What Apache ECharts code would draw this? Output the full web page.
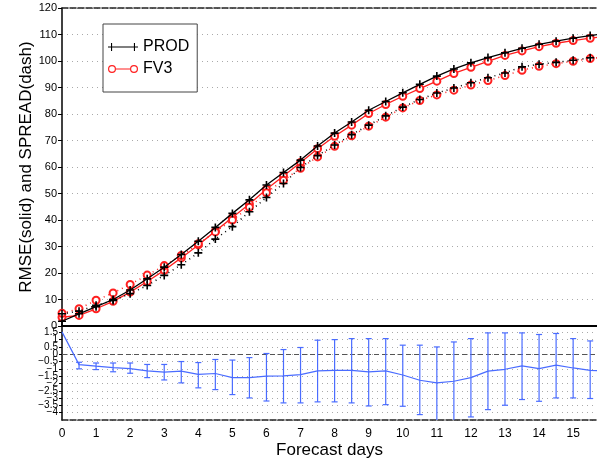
<!DOCTYPE html>
<html>
<head>
<meta charset="utf-8">
<script src="https://cdn.jsdelivr.net/npm/echarts@6/dist/echarts.min.js"></script>
<style>
html,body{margin:0;padding:0;background:#fff;}
#chart{width:597px;height:461px;}
</style>
</head>
<body>
<div id="chart"></div>
<script>
// ---- data ----
const days = [0,0.5,1,1.5,2,2.5,3,3.5,4,4.5,5,5.5,6,6.5,7,7.5,8,8.5,9,9.5,10,10.5,11,11.5,12,12.5,13,13.5,14,14.5,15,15.5,16];
const prodRmse   = [1.8,4.6,7.3,10.0,13.6,17.8,22.2,27.0,32.0,37.2,42.5,47.6,53.2,57.9,62.6,67.9,72.8,77.0,81.4,84.7,88.0,91.2,94.3,97.0,99.3,101.3,103.1,104.8,106.3,107.5,108.6,109.6,110.4];
const prodSpread = [4.6,5.6,7.8,9.6,12.2,15.3,19.1,23.1,27.6,32.8,37.5,43.1,48.5,53.8,59.8,64.3,68.3,72.2,75.8,79.3,82.6,85.5,87.9,89.8,91.8,93.7,95.5,97.8,98.8,99.5,100.3,101.2,101.9];
const fv3Rmse    = [3.3,4.0,6.5,9.3,12.8,16.8,21.0,25.7,30.6,35.8,40.9,46.0,51.6,56.6,61.7,66.9,71.6,75.8,80.2,83.6,86.7,89.6,92.4,95.3,97.6,99.9,102.1,103.8,105.4,106.7,107.7,108.6,109.4];
const fv3Spread  = [4.8,6.5,9.7,12.5,15.7,19.2,22.8,26.6,31.0,35.5,40.0,44.8,50.3,55.0,59.5,63.8,67.8,71.8,75.4,78.8,82.3,85.1,87.2,89.0,90.9,92.6,94.5,96.5,98.0,99.0,99.9,100.9,101.6];
const diffMean   = [1.53,-0.71,-0.82,-0.91,-0.98,-1.14,-1.23,-1.16,-1.38,-1.32,-1.6,-1.6,-1.5,-1.48,-1.39,-1.14,-1.1,-1.1,-1.21,-1.14,-1.42,-1.78,-1.96,-1.85,-1.6,-1.16,-1.03,-0.8,-0.98,-0.75,-0.94,-1.1,-1.15];
const barDays = [0.5,1,1.5,2,2.5,3,3.5,4,4.5,5,5.5,6,6.5,7,7.5,8,8.5,9,9.5,10,10.5,11,11.5,12,12.5,13,13.5,14,14.5,15,15.5];
const barLow  = [-1.0,-1.05,-1.2,-1.3,-1.6,-1.76,-1.96,-2.3,-2.42,-2.76,-2.99,-3.2,-3.33,-3.33,-3.26,-3.26,-3.33,-3.54,-3.45,-3.56,-4.13,-4.6,-4.7,-4.29,-3.79,-3.49,-3.1,-3.22,-2.99,-2.99,-3.03];
const barHigh = [-0.55,-0.6,-0.6,-0.6,-0.7,-0.7,-0.5,-0.57,-0.36,-0.4,-0.23,0.05,0.32,0.46,0.96,1.0,1.07,1.07,1.07,0.62,0.62,0.5,0.84,1.07,1.46,1.46,1.46,1.35,1.42,1.07,0.91];
const topTicks = [0,10,20,30,40,50,60,70,80,90,100,110,120];
const seriesNames = ['PROD','FV3'];
const axisTitleY = 'RMSE(solid) and SPREAD(dash)';
const axisTitleX = 'Forecast days';

// ---- build ----
const FONT = "'Liberation Sans', 'DejaVu Sans', sans-serif";
const RED = '#ff2020';
const BLUE = '#4a6cff';
const PLUS = 'path://M4,0H6V4H10V6H6V10H4V6H0V4H4Z';
// legend icons: line with a marker at each end (30 x 8 box)
const ICON_PROD = 'path://M0,3.45H30V4.55H0Z M3,0H4.1V8H3Z M25.9,0H27V8H25.9Z';
const ICON_FV3 = 'path://M0,4A4,4 0 1,0 8,4A4,4 0 1,0 0,4Z M1.2,4A2.8,2.8 0 1,1 6.8,4A2.8,2.8 0 1,1 1.2,4Z ' +
                 'M8,3.45H22V4.55H8Z ' +
                 'M22,4A4,4 0 1,0 30,4A4,4 0 1,0 22,4Z M23.2,4A2.8,2.8 0 1,1 28.8,4A2.8,2.8 0 1,1 23.2,4Z';
const pairs = arr => days.map((d,i)=>[d,arr[i]]);
const fmtMinus = v => String(v).replace('-', '\u2212');

const chart = echarts.init(document.getElementById('chart'), null, {renderer:'canvas'});
const option = {
  animation: false,
  backgroundColor: '#fff',
  textStyle: {fontFamily: FONT},
  grid: [
    {left: 62, right: 0, top: 8, height: 318},
    {left: 62, right: 0, top: 325, height: 95}
  ],
  legend: {
    data: [
      {name: seriesNames[0], icon: ICON_PROD},
      {name: seriesNames[1], icon: ICON_FV3}
    ],
    orient: 'vertical',
    left: 103, top: 24,
    padding: [15, 8, 15, 5],
    itemGap: 6,
    itemWidth: 30, itemHeight: 8,
    symbolKeepAspect: false,
    itemStyle: {borderWidth: 0},
    borderColor: '#444', borderWidth: 1,
    backgroundColor: '#fff',
    textStyle: {fontSize: 16, color: '#000', fontFamily: FONT},
    selectedMode: false
  },
  xAxis: [
    {gridIndex: 0, type: 'value', min: 0, max: 15.7, interval: 1,
     axisLine: {show: true, onZero: false, lineStyle: {color: '#000', width: 2}},
     axisTick: {show: false}, axisLabel: {show: false}, splitLine: {show: false}},
    {gridIndex: 0, type: 'value', position: 'top', min: 0, max: 15.7, interval: 1,
     axisLine: {show: true, onZero: false, lineStyle: {color: '#222', width: 1.5, type: [6, 2]}},
     axisTick: {show: false}, axisLabel: {show: false}, splitLine: {show: false}},
    {gridIndex: 1, type: 'value', min: 0, max: 15.7, interval: 1,
     axisLine: {show: true, onZero: false, lineStyle: {color: '#222', width: 1.5, type: [6, 2]}},
     axisTick: {show: false},
     axisLabel: {show: true, color: '#000', fontSize: 12, margin: 8, showMaxLabel: false, fontFamily: FONT},
     splitLine: {show: false},
     name: axisTitleX, nameLocation: 'middle', nameGap: 22,
     nameTextStyle: {fontSize: 17, color: '#000', fontFamily: FONT}}
  ],
  yAxis: [
    {gridIndex: 0, type: 'value', min: 0, max: 120, interval: 10,
     axisLine: {show: true, lineStyle: {color: '#000', width: 1.5}},
     axisTick: {show: true, length: 4, lineStyle: {color: '#000'}},
     axisLabel: {color: '#000', fontSize: 11, margin: 5, fontFamily: FONT,
       formatter: v => topTicks.includes(v) ? String(v) : ''},
     splitLine: {show: true, lineStyle: {color: '#aaa', type: [1, 4], width: 1}},
     name: axisTitleY, nameLocation: 'middle', nameGap: 27, nameRotate: 90,
     nameMoveOverlap: false,
     nameTextStyle: {fontSize: 17, color: '#000', fontFamily: FONT}},
    {gridIndex: 1, type: 'value', min: -4.5, max: 2, interval: 0.5,
     axisLine: {show: true, lineStyle: {color: '#000', width: 1.5}},
     axisTick: {show: true, length: 3, lineStyle: {color: '#000'}},
     axisLabel: {color: '#000', fontSize: 10, margin: 4, hideOverlap: false, fontFamily: FONT,
       formatter: fmtMinus},
     splitLine: {show: true, lineStyle: {color: '#aaa', type: [1, 4], width: 1}}}
  ],
  series: [
    {name: 'PROD', type: 'line', xAxisIndex: 0, yAxisIndex: 0, data: pairs(prodRmse),
     symbol: PLUS, symbolSize: 8, lineStyle: {color: '#000', width: 1.3},
     itemStyle: {color: '#000'}, z: 4},
    {name: 'FV3', type: 'line', xAxisIndex: 0, yAxisIndex: 0, data: pairs(fv3Rmse),
     symbol: 'emptyCircle', symbolSize: 7, lineStyle: {color: RED, width: 1.3},
     itemStyle: {color: RED, borderColor: RED, borderWidth: 1.3}, z: 3},
    {name: 'PROD spread', type: 'line', xAxisIndex: 0, yAxisIndex: 0, data: pairs(prodSpread),
     symbol: PLUS, symbolSize: 8, lineStyle: {color: '#000', width: 1.5, type: [1, 4]},
     itemStyle: {color: '#000'}, z: 4},
    {name: 'FV3 spread', type: 'line', xAxisIndex: 0, yAxisIndex: 0, data: pairs(fv3Spread),
     symbol: 'emptyCircle', symbolSize: 7, lineStyle: {color: RED, width: 1.5, type: [1, 4]},
     itemStyle: {color: RED, borderColor: RED, borderWidth: 1.3}, z: 3},
    {name: 'diff', type: 'line', xAxisIndex: 2, yAxisIndex: 1, data: pairs(diffMean),
     symbol: 'none', lineStyle: {color: BLUE, width: 1.2}, z: 5,
     markLine: {silent: true, symbol: 'none', label: {show: false},
       lineStyle: {color: '#555', type: [5, 3], width: 1.2},
       data: [{yAxis: 0}]}},
    {name: 'bars', type: 'custom', xAxisIndex: 2, yAxisIndex: 1,
     data: barDays.map((d,i)=>[d, barLow[i], barHigh[i]]),
     z: 5,
     renderItem: function(params, api){
       const x = api.value(0);
       const lo = api.coord([x, api.value(1)]);
       const hi = api.coord([x, api.value(2)]);
       const cs = params.coordSys;
       const bottom = cs.y + cs.height;
       const top = cs.y;
       const w = 3;
       const yLo = Math.min(lo[1], bottom);
       const yHi = Math.max(hi[1], top);
       const st = {stroke: BLUE, lineWidth: 1.2};
       const ch = [{type:'line', shape:{x1: lo[0], y1: yLo, x2: hi[0], y2: yHi}, style: st}];
       if (lo[1] <= bottom) ch.push({type:'line', shape:{x1: lo[0]-w, y1: lo[1], x2: lo[0]+w, y2: lo[1]}, style: st});
       if (hi[1] >= top) ch.push({type:'line', shape:{x1: hi[0]-w, y1: hi[1], x2: hi[0]+w, y2: hi[1]}, style: st});
       return {type:'group', children: ch};
     }}
  ]
};
chart.setOption(option);
</script>
</body>
</html>
